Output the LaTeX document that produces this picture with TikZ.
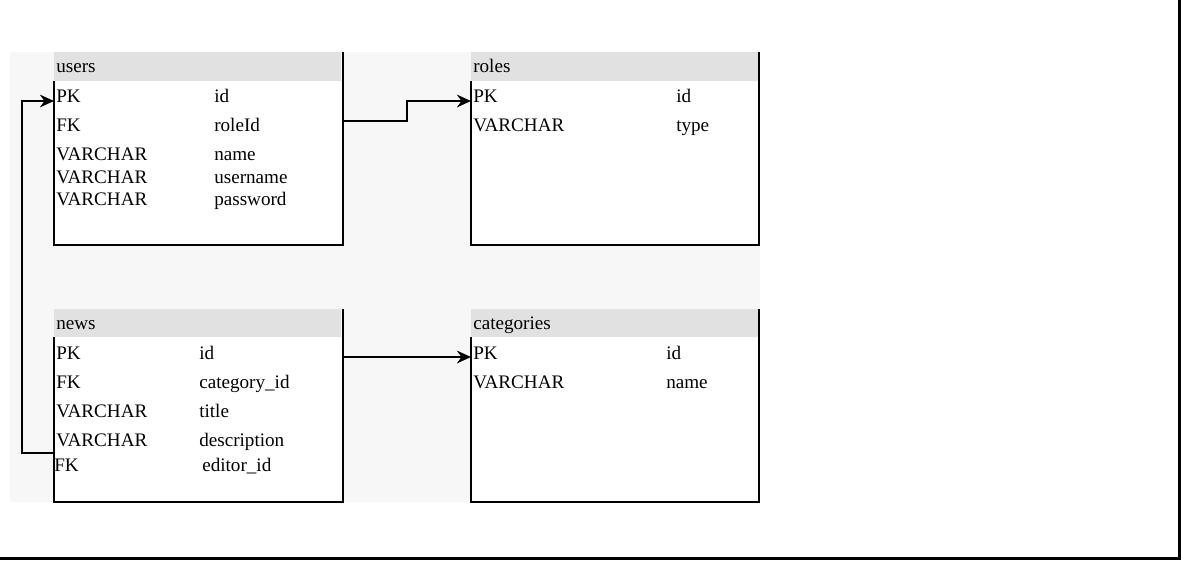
\documentclass[tikz,border=0pt]{standalone}
\usepackage{fontspec}
\setmainfont{Liberation Serif}
\usetikzlibrary{arrows.meta}
\definecolor{bggray}{HTML}{F7F7F7}
\definecolor{headgray}{HTML}{E1E1E1}

\begin{document}
\begin{tikzpicture}[>=Stealth, x=0.025cm, y=-0.025cm,
	field/.style={anchor=base west, inner sep=0pt, font=\fontsize{13.6}{16}\selectfont},
	tab/.style={line width=1.4pt},
	link/.style={line width=1.3pt, ->, >={Stealth[length=10pt, width=9pt]}}]
	\useasboundingbox (0,0) rectangle (1181,560);
	% Background
	\fill[bggray] (10,52) rectangle (760,502);
	\draw[line width=1.5pt] (1179.5,0) -- (1179.5,558.5) -- (0,558.5);
	
	% users
	\coordinate (users-ne) at (343,52);
	\fill[headgray] (54,52) rectangle (341,81);
	\fill[white] (54,81) rectangle (343,245);
	\draw[tab] (54,81) |- (343,245) -- (users-ne);
	\node[field] (users) at (56,72) {users};
	\node[field] (users-pk) at (56,102) {PK};
	\node[field] (users-fk) at (56,131) {FK};
	\node[field] (users-v1) at (56,160) {VARCHAR};
	\node[field] (users-v2) at (56,183) {VARCHAR};
	\node[field] (users-v3) at (56,205) {VARCHAR};
	\node[field] at (214,102) {id};
	\node[field] at (214,131) {roleId};
	\node[field] at (214,160) {name};
	\node[field] at (214,183) {username};
	\node[field] at (214,205) {password};
	
	% roles
	\coordinate (roles-ne) at (759,52);
	\fill[headgray] (471,52) rectangle (758,81);
	\fill[white] (471,81) rectangle (759,245);
	\draw[tab] (471,81) |- (759,245) -- (roles-ne);
	\node[field] (roles) at (473,72) {roles};
	\node[field] (roles-pk) at (473,102) {PK};
	\node[field] (roles-v1) at (473,131) {VARCHAR};
	\node[field] at (676,102) {id};
	\node[field] at (676,131) {type};
	
	% news
	\coordinate (news-ne) at (343,309);
	\fill[headgray] (54,309) rectangle (341,337);
	\fill[white] (54,337) rectangle (343,502);
	\draw[tab] (54,337) |- (343,502) -- (news-ne);
	\node[field] (news) at (56,329) {news};
	\node[field] (news-pk) at (56,359) {PK};
	\node[field] (news-fk) at (56,388) {FK};
	\node[field] (news-v1) at (56,417) {VARCHAR};
	\node[field] (news-v2) at (56,446) {VARCHAR};
	\node[field] (news-ed) at (54,471) {FK};
	\node[field] at (199,359) {id};
	\node[field] at (199,388) {category\_id};
	\node[field] at (199,417) {title};
	\node[field] at (199,446) {description};
	\node[field] at (202,471) {editor\_id};
	
	% categories
	\coordinate (cat-ne) at (759,309);
	\fill[headgray] (471,309) rectangle (758,337);
	\fill[white] (471,337) rectangle (759,502);
	\draw[tab] (471,337) |- (759,502) -- (cat-ne);
	\node[field] (cat) at (473,329) {categories};
	\node[field] (cat-pk) at (473,359) {PK};
	\node[field] (cat-v1) at (473,388) {VARCHAR};
	\node[field] at (666,359) {id};
	\node[field] at (666,388) {name};
	
	% Links
	\coordinate (users-fk-out) at (343,121);
	\coordinate (users-pk-in) at (54,101);
	\coordinate (roles-pk-in) at (471,101);
	\coordinate (news-fk-out) at (343,357);
	\coordinate (news-ed-out) at (54,453);
	\coordinate (cat-pk-in) at (471,357);
	\draw[link] (users-fk-out) -- (407,121) |- (roles-pk-in);
	\draw[link] (news-fk-out) -- (cat-pk-in);
	\draw[link] (news-ed-out) -- (22,453) |- (users-pk-in);
\end{tikzpicture}
\end{document}
